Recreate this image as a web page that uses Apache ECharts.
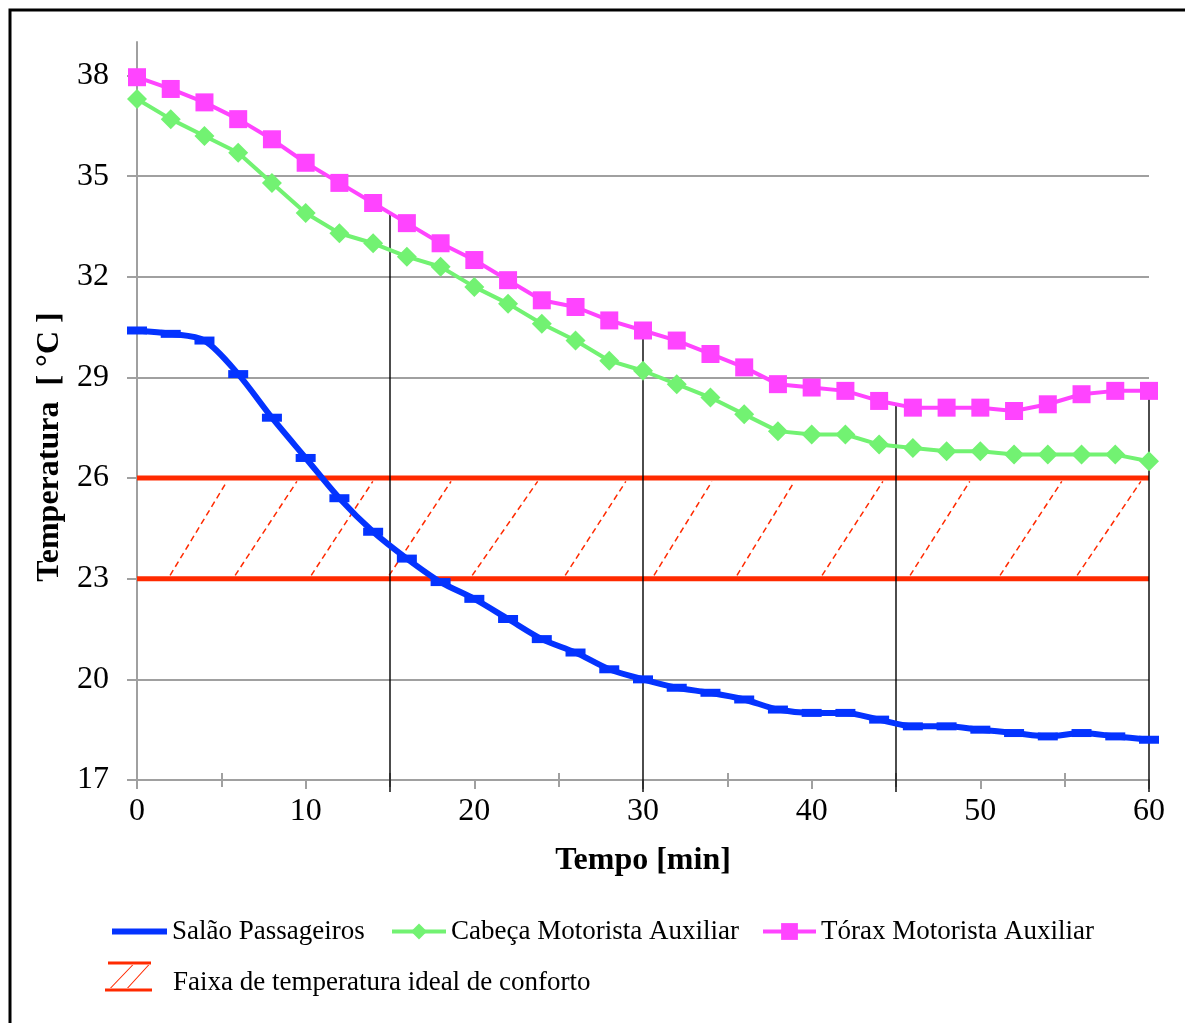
<!DOCTYPE html>
<html>
<head>
<meta charset="utf-8">
<script src="https://cdn.jsdelivr.net/npm/echarts@6/dist/echarts.min.js"></script>
<style>html,body{margin:0;padding:0;background:#fff}#c{width:1185px;height:1023px}</style>
</head>
<body>
<div id="c"></div>
<script>
// ---- data ----
const time = [0,2,4,6,8,10,12,14,16,18,20,22,24,26,28,30,32,34,36,38,40,42,44,46,48,50,52,54,56,58,60];
const salao = [30.4,30.3,30.1,29.1,27.8,26.6,25.4,24.4,23.6,22.9,22.4,21.8,21.2,20.8,20.3,20.0,19.75,19.6,19.4,19.1,19.0,19.0,18.8,18.6,18.6,18.5,18.4,18.3,18.4,18.3,18.2];
const cabeca = [37.3,36.7,36.2,35.7,34.8,33.9,33.3,33.0,32.6,32.3,31.7,31.2,30.6,30.1,29.5,29.2,28.8,28.4,27.9,27.4,27.3,27.3,27.0,26.9,26.8,26.8,26.7,26.7,26.7,26.7,26.5];
const torax = [37.95,37.6,37.2,36.7,36.1,35.4,34.8,34.2,33.6,33.0,32.5,31.9,31.3,31.1,30.7,30.4,30.1,29.7,29.3,28.8,28.7,28.6,28.3,28.1,28.1,28.1,28.0,28.2,28.5,28.6,28.6];
const bandLow = 23;
const bandHigh = 26;
const bandX = [0, 60];
const hatchFrom = [1.84,5.69,10.2,14.82,19.74,25.26,30.53,35.45,40.49,45.71,51.04,55.61];
const hatchTo = [5.45,9.61,14.11,18.75,23.89,29.11,34.21,39.1,44.35,49.5,54.96,59.65];
const dropX = [15,30,45,60];
const dropTop = [33.9,30.4,28.2,28.4];
const yTicks = [17,20,23,26,29,32,35,38];
const xMinorTicks = [5,15,25,35,45,55];
const names = ['Salão Passageiros','Cabeça Motorista Auxiliar','Tórax Motorista Auxiliar','Faixa de temperatura ideal de conforto'];

// ---- chart ----
const FONT = '"Liberation Serif","Times New Roman",serif';
const GRAY = '#a0a0a0';
const RED = '#ff2a00';
const chart = echarts.init(document.getElementById('c'), null, {renderer:'canvas'});
const zip = (a,b) => a.map((v,i)=>[v,b[i]]);
const legendText = {fontSize:27, color:'#000', fontFamily:FONT};
const bandIcon = 'path://M3,0H46V3H3Z M0,27H47V30H0Z M5,26.5L27,3.5L28.3,3.5L6.3,26.5Z M22,26.5L43,3.5L44.3,3.5L23.3,26.5Z M0,42L0.01,42L0,42Z M47,42L46.99,42L47,42Z';

const option = {
  animation:false,
  backgroundColor:'#fff',
  textStyle:{fontFamily:FONT},
  grid:{left:137, right:36, top:42, bottom:243, containLabel:false, outerBoundsMode:'none'},
  graphic:[{type:'rect', silent:true, shape:{x:10,y:10,width:1400,height:1400}, style:{fill:'none', stroke:'#000', lineWidth:3}}],
  legend:[
    {data:[{name:names[0], icon:'path://M0,0H55V6H0Z'}], left:112, top:918, itemWidth:55, itemHeight:6, padding:0, selectedMode:false, textStyle:legendText},
    {data:[names[1]], left:390, top:918, itemWidth:54, itemHeight:20, padding:0, selectedMode:false, textStyle:legendText, lineStyle:{width:4}},
    {data:[names[2]], left:761, top:918, itemWidth:53, itemHeight:21, padding:0, selectedMode:false, textStyle:legendText, lineStyle:{width:4}},
    {data:[{name:names[3], icon:bandIcon}],
     left:105, top:961.5, itemWidth:47, itemHeight:42, padding:0, selectedMode:false, textStyle:Object.assign({}, legendText, {padding:[0,0,0,16]})}
  ],
  xAxis:[
    {type:'value', min:0, max:60, interval:10, position:'bottom',
     axisLine:{show:true, onZero:false, lineStyle:{color:GRAY, width:2}},
     axisTick:{show:true, length:9, lineStyle:{color:GRAY, width:2}},
     minorTick:{show:true, splitNumber:2, length:7, lineStyle:{color:GRAY, width:2}},
     axisLabel:{fontSize:32, color:'#000', margin:16, fontFamily:FONT},
     splitLine:{show:false},
     name:'Tempo [min]', nameLocation:'middle', nameGap:65,
     nameTextStyle:{fontSize:32, fontWeight:'bold', color:'#000', fontFamily:FONT}},
    {type:'value', min:0, max:60, interval:5, position:'bottom',
     axisLine:{show:false},
     axisTick:{show:true, inside:true, length:7, customValues:xMinorTicks, lineStyle:{color:GRAY, width:2}},
     axisLabel:{show:false}, splitLine:{show:false}}
  ],
  yAxis:{type:'value', min:17, max:39, interval:3,
    axisLine:{show:true, onZero:false, lineStyle:{color:GRAY, width:2}},
    axisTick:{show:true, length:10, customValues:yTicks, lineStyle:{color:GRAY, width:2}},
    axisLabel:{customValues:yTicks, fontSize:32, color:'#000', margin:28, fontFamily:FONT},
    splitLine:{show:true, showMaxLine:false, lineStyle:{color:GRAY, width:2}},
    name:'Temperatura  [ °C ]', nameLocation:'middle', nameRotate:90, nameGap:63,
    nameTextStyle:{fontSize:32, fontWeight:'bold', color:'#000', fontFamily:FONT, padding:[0,72,0,0]}},
  series:[
    {type:'custom', name:names[3], z:1, silent:true, itemStyle:{color:RED},
     data: zip(hatchFrom, hatchTo),
     renderItem:(params, api) => {
       const a = api.coord([api.value(0), bandLow]);
       const b = api.coord([api.value(1), bandHigh]);
       const dx = b[0]-a[0], dy = b[1]-a[1];
       const len = Math.sqrt(dx*dx+dy*dy), t = 4/len;
       return {type:'line', silent:true,
         shape:{x1:a[0]+dx*t, y1:a[1]+dy*t, x2:b[0]-dx*t, y2:b[1]-dy*t},
         style:{stroke:RED, lineWidth:1.5, lineDash:[6,4]}};
     }},
    {type:'line', name:'limite superior', z:2, silent:true, clip:false, symbol:'none',
     data:bandX.map(x=>[x,bandHigh]), lineStyle:{color:RED, width:5}},
    {type:'line', name:'limite inferior', z:2, silent:true, clip:false, symbol:'none',
     data:bandX.map(x=>[x,bandLow]), lineStyle:{color:RED, width:5}},
    {type:'custom', name:'marcas', z:3, silent:true, clip:false,
     data: zip(dropX, dropTop),
     renderItem:(params, api) => {
       const top = api.coord([api.value(0), api.value(1)]);
       const bot = api.coord([api.value(0), 17]);
       return {type:'line', silent:true,
         shape:{x1:top[0], y1:top[1], x2:bot[0], y2:bot[1]+12},
         style:{stroke:'#000', lineWidth:1.4}};
     }},
    {type:'line', name:names[2], z:4, data:zip(time, torax), symbol:'rect', symbolSize:18,
     itemStyle:{color:'#ff44ff'}, lineStyle:{color:'#ff44ff', width:4}},
    {type:'line', name:names[1], z:4, data:zip(time, cabeca), symbol:'diamond', symbolSize:20,
     itemStyle:{color:'#72f272'}, lineStyle:{color:'#72f272', width:4}},
    {type:'line', name:names[0], z:5, data:zip(time, salao), symbol:'rect', symbolSize:[20,8], smooth:0.3,
     itemStyle:{color:'#0433ff'}, lineStyle:{color:'#0433ff', width:6}}
  ]
};
chart.setOption(option);
</script>
</body>
</html>
